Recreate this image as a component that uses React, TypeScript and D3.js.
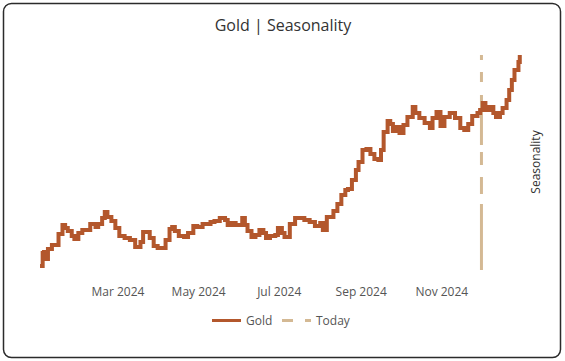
import React from "react";
import * as d3 from "d3";

const dates: string[] = [
  "2024-01-02","2024-01-04","2024-01-05","2024-01-07","2024-01-08","2024-01-11","2024-01-13","2024-01-16","2024-01-19","2024-01-21",
  "2024-01-23","2024-01-26","2024-01-28","2024-01-31","2024-02-03","2024-02-06","2024-02-09","2024-02-13","2024-02-15","2024-02-18",
  "2024-02-20","2024-02-22","2024-02-25","2024-02-28","2024-03-02","2024-03-06","2024-03-10","2024-03-14","2024-03-18","2024-03-20",
  "2024-03-23","2024-03-25","2024-03-28","2024-03-31","2024-04-04","2024-04-06","2024-04-09","2024-04-11","2024-04-13","2024-04-16",
  "2024-04-20","2024-04-23","2024-04-27","2024-04-30","2024-05-04","2024-05-10","2024-05-13","2024-05-17","2024-05-21","2024-05-23",
  "2024-05-26","2024-05-29","2024-06-03","2024-06-05","2024-06-07","2024-06-10","2024-06-13","2024-06-16","2024-06-19","2024-06-21",
  "2024-06-24","2024-06-28","2024-06-30","2024-07-03","2024-07-05","2024-07-09","2024-07-13","2024-07-17","2024-07-20","2024-07-24",
  "2024-07-28","2024-08-01","2024-08-03","2024-08-06","2024-08-11","2024-08-14","2024-08-17","2024-08-20","2024-08-22","2024-08-25",
  "2024-08-28","2024-08-30","2024-09-02","2024-09-05","2024-09-08","2024-09-11","2024-09-14","2024-09-16","2024-09-18","2024-09-21",
  "2024-09-23","2024-09-25","2024-09-28","2024-09-30","2024-10-03","2024-10-06","2024-10-10","2024-10-12","2024-10-15","2024-10-19",
  "2024-10-23","2024-10-25","2024-10-28","2024-10-31","2024-11-03","2024-11-07","2024-11-11","2024-11-15","2024-11-18","2024-11-21",
  "2024-11-24","2024-11-28","2024-11-30","2024-12-02","2024-12-04","2024-12-07","2024-12-10","2024-12-12","2024-12-15","2024-12-17",
  "2024-12-20","2024-12-22","2024-12-24","2024-12-26","2024-12-29","2024-12-30",
];

const goldValues: number[] = [
  0.4,1.7,1.8,1.1,2.1,2.5,2.5,3.6,4.5,4.2,
  3.9,3.4,3.1,3.7,4.0,4.0,4.6,4.3,4.6,5.2,
  5.8,5.3,4.9,4.2,3.4,3.2,3.0,2.3,2.8,3.8,
  3.8,3.2,2.4,2.2,2.2,3.0,4.1,4.3,3.9,3.4,
  3.3,3.7,4.4,4.3,4.6,4.8,4.9,5.2,5.0,4.5,
  4.7,4.5,5.2,4.5,3.9,3.3,3.5,4.0,3.7,3.2,
  3.4,3.5,4.2,3.7,3.3,4.6,5.2,5.2,5.0,4.8,
  4.4,4.7,4.0,5.3,5.9,6.6,7.5,8.0,8.1,9.0,
  10.0,10.8,12.0,12.1,11.6,11.1,11.0,12.0,13.8,14.9,
  14.6,13.9,14.3,13.7,14.5,15.3,16.3,15.7,15.2,14.7,
  14.2,15.2,15.8,14.4,15.3,15.7,15.2,14.2,14.0,14.6,
  15.4,15.7,16.0,16.7,16.0,16.3,15.7,15.3,15.7,16.2,
  17.0,18.0,19.0,20.0,20.8,21.5,
];

const tickLabels: string[] = ["Mar 2024", "May 2024", "Jul 2024", "Sep 2024", "Nov 2024"];
const tickDates: string[] = ["2024-03-01", "2024-05-01", "2024-07-01", "2024-09-01", "2024-11-01"];
const todayDate = "2024-12-01";
const yDomain: number[] = [0, 21.5];

// dash pattern of the "Today" marker (offsets in px from its top: [start, end])
const todayDashes: [number, number][] = [
  [0, 5], [17, 27], [40, 90], [97, 110], [122, 139], [149, 215],
];

const parse = d3.timeParse("%Y-%m-%d");

export default function App() {
  const W = 565, H = 361;
  const x = d3.scaleTime()
    .domain([parse("2024-01-01")!, parse("2024-12-31")!])
    .range([38.7, 521.1]);
  const y = d3.scaleLinear().domain(yDomain).range([270, 55]);
  const data = dates.map((d, i) => ({ date: parse(d)!, v: goldValues[i] }));
  const line = d3.line<{ date: Date; v: number }>()
    .x((d) => x(d.date))
    .y((d) => y(d.v))
    .curve(d3.curveStepAfter);
  const tx = x(parse(todayDate)!);
  const top = y(yDomain[1]);
  const font = "'Open Sans', 'Noto Sans', sans-serif";
  const gold = "#B3572C";
  const tan = "#D4B994";

  return (
    <svg width={W} height={H} style={{ position: "absolute", left: 0, top: 0 }} fontFamily={font}>
      <rect x={0} y={0} width={W} height={H} fill="#fff" />
      <rect x={3.5} y={3.5} width={557} height={354} rx={8} fill="#fff" stroke="#2b2b2b" strokeWidth={1.5} />
      <text x={283} y={31} textAnchor="middle" fontSize={16} fill="#333">Gold | Seasonality</text>
      {todayDashes.map(([a, b], i) => (
        <line key={i} x1={tx} x2={tx} y1={top + a} y2={top + b} stroke={tan} strokeWidth={3} />
      ))}
      <path d={line(data) || ""} fill="none" stroke={gold} strokeWidth={4} strokeLinejoin="miter" />
      {tickDates.map((t, i) => (
        <text key={t} x={x(parse(t)!)} y={296} textAnchor="middle" fontSize={12} fill="#555">{tickLabels[i]}</text>
      ))}
      <text transform={`translate(540,162) rotate(-90)`} textAnchor="middle" fontSize={12} fill="#333">Seasonality</text>
      <line x1={212} x2={241} y1={320.5} y2={320.5} stroke={gold} strokeWidth={3} />
      <text x={246} y={324.5} fontSize={12} fill="#555">Gold</text>
      <line x1={282} x2={293} y1={320.5} y2={320.5} stroke={tan} strokeWidth={3} />
      <line x1={305} x2={311} y1={320.5} y2={320.5} stroke={tan} strokeWidth={3} />
      <text x={316} y={324.5} fontSize={12} fill="#555">Today</text>
    </svg>
  );
}
